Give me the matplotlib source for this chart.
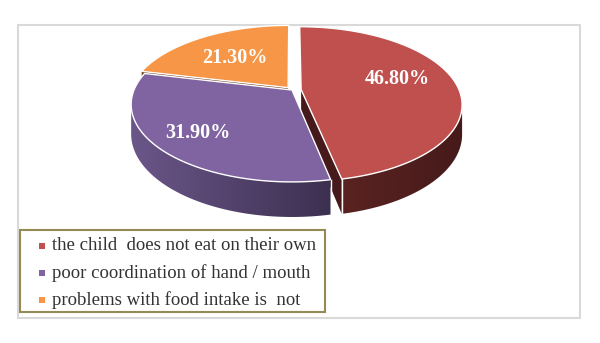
import numpy as np
import matplotlib.pyplot as plt
from matplotlib.patches import Polygon, Rectangle
from matplotlib.colors import to_rgb

# data
labels = ['the child  does not eat on their own',
          'poor coordination of hand / mouth',
          'problems with food intake is  not']
values = [46.8, 31.9, 21.3]

# style
top_colors = ['#C0504D', '#8064A2', '#F79646']
side_left = ['#5A2322', '#6B5689', '#7A4418']
side_right = ['#461A1A', '#3C3050', '#6A3A14']
explode = [0.058, 0.0, 0.04]
label_frac = [0.62, 0.75, 0.6]
label_lift = [-6, 0, 2]

# simple perspective for the tilted pie (pixel units)
cx, cy0, s, k, p, h = 292, 90, 158, 0.473, 0.187, 28.5

fig = plt.figure(figsize=(6, 3.43), dpi=100)
ax = fig.add_axes([0, 0, 1, 1])
ax.axis('off')


def proj(x, z, d=0):
    den = 1 + p * z
    return np.column_stack([cx + s * x / den, cy0 + (-s * k * z + h * d) / den])


def rim(t, off, r=1.0, d=0):
    t = np.radians(np.atleast_1d(t))
    return proj(off[0] + r * np.cos(t), off[1] + r * np.sin(t), d)


cum = np.concatenate([[0], np.cumsum(values)]) / sum(values) * 360
slices = []
for i, v in enumerate(values):
    t0, t1 = 90 - cum[i], 90 - cum[i + 1]
    mid = (t0 + t1) / 2
    off = (explode[i] * np.cos(np.radians(mid)), explode[i] * np.sin(np.radians(mid)))
    slices.append((t0, t1, mid, off))

# radial cut faces, only the ones turned towards the viewer
for i, (t0, t1, mid, off) in enumerate(slices):
    for t, nz in ((t0, np.cos(np.radians(t0))), (t1, -np.cos(np.radians(t1)))):
        if nz > -1e-6:
            continue
        poly = np.vstack([proj(*off), rim(t, off), rim(t, off, d=1), proj(*off, d=1)])
        ax.add_patch(Polygon(poly, closed=True, fc=side_right[i], ec='none', zorder=1))

# front walls, shaded left to right
edge = np.degrees(np.arcsin(p))
for i, (t0, t1, mid, off) in enumerate(slices):
    lo, hi = max(t1, -180 + edge), min(t0, -edge)
    if lo >= hi:
        continue
    ts = np.linspace(lo, hi, 150)
    poly = np.vstack([rim(ts, off), rim(ts[::-1], off, d=1)])
    patch = Polygon(poly, closed=True, fc='none', ec='none', zorder=2)
    ax.add_patch(patch)
    a, b = np.array(to_rgb(side_left[i])), np.array(to_rgb(side_right[i]))
    grad = a + (b - a) * np.linspace(0, 1, 256)[:, None]
    im = ax.imshow(grad[None, :, :], aspect='auto', interpolation='bilinear',
                   extent=[poly[:, 0].min(), poly[:, 0].max(), poly[:, 1].max(), poly[:, 1].min()],
                   zorder=2)
    im.set_clip_path(patch)
    for t in (t0, t1):
        if lo <= t <= hi:
            seg = np.vstack([rim(t, off), rim(t, off, d=1)])
            ax.plot(seg[:, 0], seg[:, 1], color='white', lw=1, zorder=2.5)

# top faces and value labels
for i, (t0, t1, mid, off) in enumerate(slices):
    arc = rim(np.linspace(t0, t1, 200), off)
    ax.add_patch(Polygon(np.vstack([proj(*off), arc]), closed=True, fc=top_colors[i],
                         ec='white', lw=1, zorder=3))
    lx, ly = rim(mid, off, r=label_frac[i])[0]
    ax.text(lx, ly + label_lift[i], f'{values[i]:.2f}%', color='white', fontsize=14.5,
            fontweight='bold', family='Liberation Serif', ha='center', va='center',
            zorder=4)

# chart area border
ax.add_patch(Rectangle((18, 25), 562, 293, fill=False, ec='#D9D9D9', lw=1.5, zorder=0))

# legend box
ax.add_patch(Rectangle((20, 230), 305, 82, fc='white', ec='#948A54', lw=1.5, zorder=5))
for i, lab in enumerate(labels):
    y = 246 + 27 * i
    ax.scatter([42], [y], marker='s', s=22, color=top_colors[i], lw=0, zorder=6)
    ax.text(52, y, lab, family='Liberation Serif', fontsize=13.5, color='#333333',
            ha='left', va='center', zorder=6)

ax.set_xlim(0, 600)
ax.set_ylim(343, 0)

fig.savefig('out.png', dpi=100)
